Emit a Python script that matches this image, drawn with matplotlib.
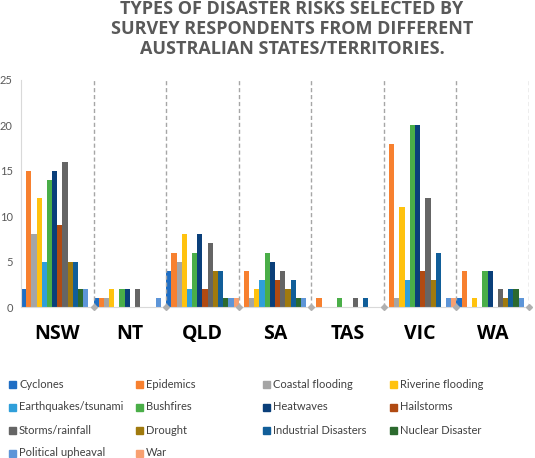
import matplotlib.pyplot as plt
from matplotlib.patches import Rectangle
import numpy as np

states = ["NSW", "NT", "QLD", "SA", "TAS", "VIC", "WA"]

risks = ["Cyclones", "Epidemics", "Coastal flooding", "Riverine flooding",
         "Earthquakes/tsunami", "Bushfires", "Heatwaves", "Hailstorms",
         "Storms/rainfall", "Drought", "Industrial Disasters", "Nuclear Disaster",
         "Political upheaval", "War"]

# counts per risk, one value per state (NSW, NT, QLD, SA, TAS, VIC, WA)
cyclones = [2, 1, 4, 0, 0, 0, 1]
epidemics = [15, 1, 6, 4, 1, 18, 4]
coastal = [8, 1, 5, 1, 0, 1, 0]
riverine = [12, 2, 8, 2, 0, 11, 1]
earthquakes = [5, 0, 2, 3, 0, 3, 0]
bushfires = [14, 2, 6, 6, 1, 20, 4]
heatwaves = [15, 2, 8, 5, 0, 20, 4]
hailstorms = [9, 0, 2, 3, 0, 4, 0]
storms = [16, 2, 7, 4, 1, 12, 2]
drought = [5, 0, 4, 2, 0, 3, 1]
industrial = [5, 0, 4, 3, 1, 6, 2]
nuclear = [2, 0, 1, 1, 0, 0, 2]
political = [2, 1, 1, 1, 0, 1, 1]
war = [0, 0, 1, 0, 0, 1, 0]

values = [cyclones, epidemics, coastal, riverine, earthquakes, bushfires,
          heatwaves, hailstorms, storms, drought, industrial, nuclear,
          political, war]

colors = ["#1F6EC4", "#F7802F", "#A5A5A5", "#FFC20E", "#2F9FDA", "#4AAE48",
          "#0A3F7A", "#B04A12", "#656565", "#A07A0E", "#115E99", "#2C6A2E",
          "#5D95D8", "#F8A070"]

W, H = 535, 458
fig = plt.figure(figsize=(W / 100, H / 100), dpi=100)
ax = fig.add_axes([21 / W, (H - 307) / H, (529 - 21) / W, (307 - 80) / H])

n = len(risks)
bw = 1 / n
x = np.arange(len(states))
for j, (vals, c) in enumerate(zip(values, colors)):
    ax.bar(x + (j + 0.5) * bw, vals, width=bw, color=c, align="center")

ax.set_xlim(0, len(states))
ax.set_ylim(0, 25)

for xs in range(1, len(states) + 1):
    ax.axvline(xs, color="#A6A6A6", linestyle=(0, (3, 2)), linewidth=1)
    ax.plot(xs, 0, marker="D", markersize=3, color="#B0B0B0", clip_on=False, zorder=5)

ax.set_xticks(x + 0.5)
ax.set_xticklabels(states, fontsize=14, fontweight="bold", family="Open Sans")
ax.tick_params(axis="x", length=0, pad=12)
ax.set_yticks(range(0, 26, 5))
ax.tick_params(axis="y", length=0, pad=6, labelsize=8, labelcolor="#595959")
for lab in ax.get_yticklabels():
    lab.set_family("Lato")

for s in ["top", "right"]:
    ax.spines[s].set_visible(False)
for s in ["left", "bottom"]:
    ax.spines[s].set_color("#D9D9D9")

title_lines = ["TYPES OF DISASTER RISKS SELECTED BY",
               "SURVEY RESPONDENTS FROM DIFFERENT",
               "AUSTRALIAN STATES/TERRITORIES."]
for k, line in enumerate(title_lines):
    fig.text(292 / W, 1 - (8.5 + 20 * k) / H, line, ha="center", va="center",
             fontsize=13, fontweight="bold", color="#595959", family="Open Sans")

# legend, four fixed-width columns as in the original
for i, (name, c) in enumerate(zip(risks, colors)):
    row, col = divmod(i, 4)
    lx = 9 + col * 127
    ly = 384 + row * 23
    fig.add_artist(Rectangle((lx / W, 1 - (ly + 3.5) / H), 7 / W, 7 / H,
                             transform=fig.transFigure, color=c))
    fig.text((lx + 10) / W, 1 - ly / H, name, ha="left", va="center",
             fontsize=8, color="#404040", family="Lato")

fig.savefig("out.png", dpi=100)
